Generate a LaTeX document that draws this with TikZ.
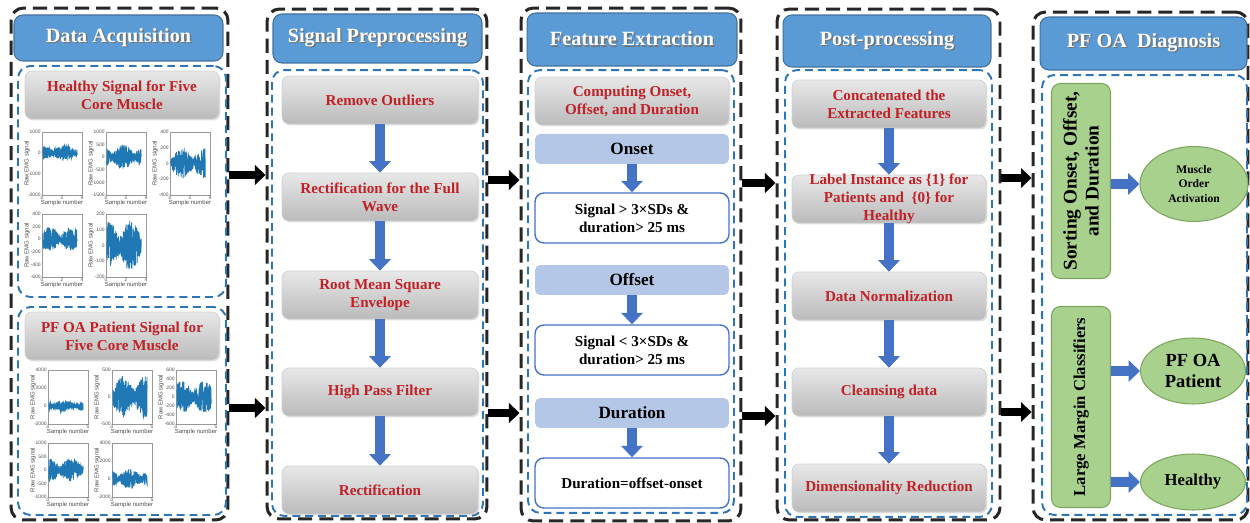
\documentclass[tikz,border=0pt]{standalone}
\usepackage{fontspec}
\setmainfont{Liberation Serif}
\newfontfamily\plotfont{Liberation Sans}
\usepackage{tikz}
\usetikzlibrary{positioning,calc,shadows,arrows.meta,shapes.geometric}

\definecolor{headblue}{RGB}{91,155,213}
\definecolor{headedge}{RGB}{65,113,156}
\definecolor{dashblue}{RGB}{46,117,182}
\definecolor{arrowblue}{RGB}{68,114,196}
\definecolor{lightblue}{RGB}{180,199,231}
\definecolor{boxred}{RGB}{192,32,38}
\definecolor{greenfill}{RGB}{169,209,142}
\definecolor{greenedge}{RGB}{125,165,95}
\definecolor{emgblue}{RGB}{31,119,180}

\newcommand{\shadowtext}[1]{\rlap{\hspace{0.8pt}\raisebox{-0.8pt}{\color{black!55}#1}}#1}

\newcommand{\emgplot}[8]{%
	\draw[plotframe] (#2,#3) rectangle ++(40,\plotH);
	\pgfmathsetseed{#4}
	\draw[emgline] plot[domain=0.02:0.88, samples=320] ({#2+40*\x},{#3+#6+#5*rand*(0.3+0.7*abs(sin(\x*320+#4*41)))});
	\foreach \p/\lab [count=\i] in {#7}
		\node[ticklab, anchor=east] (#1-y\i) at (#2,#3+\p) {\lab};
	\foreach \p/\lab [count=\i] in {#8}
		\node[ticklab, anchor=north] (#1-x\i) at (#2+\p,#3+\plotH) {\lab};
	\node[axislab, anchor=north] (#1-xl) at (#2+20,#3+\plotH+4) {Sample number};
	\node[axislab, rotate=90, anchor=south] (#1-yl) at (#2-11,#3+\plotH/2) {Raw EMG signal};
}

\begin{document}
\begin{tikzpicture}[x=0.02cm, y=-0.02cm,
	outerbox/.style={draw=black!85, line width=1.7pt, dash pattern=on 8pt off 4pt, rounded corners=7pt},
	innerbox/.style={draw=dashblue, line width=1.1pt, dash pattern=on 4.5pt off 2.8pt, rounded corners=7pt},
	header/.style={draw=headedge, fill=headblue, line width=0.6pt, rounded corners=5pt, text=white, font=\fontsize{11.5}{13}\selectfont\bfseries},
	redtext/.style={text=boxred, font=\fontsize{8.6}{10.2}\selectfont\bfseries, align=center, inner sep=0pt},
	graybox/.style={draw=black!18, top color=black!9, bottom color=black!27, rounded corners=4pt, drop shadow={shadow xshift=0.8pt, shadow yshift=-0.8pt, opacity=0.25}, minimum width=3.88cm, minimum height=0.96cm, redtext},
	bluebox/.style={fill=lightblue, rounded corners=3pt, minimum width=3.88cm, minimum height=0.6cm, font=\fontsize{9.8}{11}\selectfont\bfseries},
	whitebox/.style={draw=arrowblue, line width=0.8pt, fill=white, rounded corners=5pt, minimum width=3.88cm, minimum height=1cm, align=center, font=\fontsize{8.6}{10.2}\selectfont\bfseries},
	greenbox/.style={draw=greenedge, fill=greenfill, line width=0.6pt, rounded corners=5pt, rotate=90, align=center, font=\bfseries},
	oval/.style={ellipse, draw=greenedge, fill=greenfill, line width=0.6pt, inner sep=0pt, align=center, font=\bfseries},
	bigarrow/.style={draw=black, line width=4.5pt, -{Triangle[length=6pt,width=11pt]}},
	downarrow/.style={draw=arrowblue, line width=6pt, -{Triangle[length=6.5pt,width=12pt]}},
	plotframe/.style={draw=black!40, line width=0.25pt},
	emgline/.style={draw=emgblue, line width=0.45pt},
	ticklab/.style={font=\plotfont\fontsize{2.8}{3}\selectfont, inner sep=0.6pt, text=black!70},
	axislab/.style={font=\plotfont\fontsize{3.4}{4}\selectfont, inner sep=0.5pt, text=black!70}]

	\useasboundingbox (0,0) rectangle (1250,523);

	\node[outerbox, minimum width=4.34cm, minimum height=10.24cm] (colA) at (119.5,264) {};
	\node[outerbox, minimum width=4.4cm, minimum height=10.2cm] (colB) at (377,264) {};
	\node[outerbox, minimum width=4.4cm, minimum height=10.26cm] (colC) at (631,264.5) {};
	\node[outerbox, minimum width=4.46cm, minimum height=10.22cm] (colD) at (888.5,264.5) {};
	\node[outerbox, minimum width=4.3cm, minimum height=10.16cm] (colE) at (1140.5,266) {};

	\node[header, minimum width=4.18cm, minimum height=0.92cm] (hdA) at (118.5,38) {\shadowtext{Data Acquisition}};
	\node[header, minimum width=4.18cm, minimum height=0.98cm] (hdB) at (377.5,38.5) {\shadowtext{Signal Preprocessing}};
	\node[header, minimum width=4.2cm, minimum height=1.06cm] (hdC) at (632,39.5) {\shadowtext{Feature Extraction}};
	\node[header, minimum width=4.16cm, minimum height=1.04cm] (hdD) at (887,41) {\shadowtext{Post-processing}};
	\node[header, minimum width=4.14cm, minimum height=1.06cm] (hdE) at (1143.5,43.5) {\shadowtext{PF OA~ Diagnosis}};

	\node[innerbox, minimum width=4.16cm, minimum height=4.62cm] (inA1) at (122,181.5) {};
	\node[innerbox, minimum width=4.16cm, minimum height=4.16cm] (inA2) at (122,411) {};
	\node[innerbox, minimum width=4.22cm, minimum height=8.92cm] (inB) at (377.5,293) {};
	\node[innerbox, minimum width=4.12cm, minimum height=8.86cm] (inC) at (631,291.5) {};
	\node[innerbox, minimum width=4.14cm, minimum height=8.94cm] (inD) at (888.5,293.5) {};
	\node[innerbox, minimum width=4.1cm, minimum height=8.8cm] (inE) at (1144.5,295) {};

	\node[graybox] (healthy) at (122,95) {Healthy Signal for Five\\Core Muscle};
	\node[graybox] (patient) at (122,336) {PF OA Patient Signal for\\Five Core Muscle};

	\def\plotH{63}
	\emgplot{hA}{42}{132}{11}{8}{21}{0/1000,21/0,42/-1000,63/-2000}{0/0,20/2,40/4}
	\emgplot{hB}{106}{132}{12}{12}{25}{0/1000,12.6/500,25.2/0,37.8/-500,50.4/-1000,63/-1500}{0/0,20/2,40/4}
	\emgplot{hC}{170}{132}{13}{15}{31.5}{0/400,15.75/200,31.5/0,47.25/-200,63/-400}{0/0,20/2,40/4}
	\emgplot{hD}{42}{214}{14}{12}{25}{0/400,12.6/200,25.2/0,37.8/-200,50.4/-400,63/-600}{0/0,20/2,40/4}
	\emgplot{hE}{106}{214}{15}{25}{31.5}{0/200,15.75/100,31.5/0,47.25/-100,63/-200}{0/0,20/2,40/4}

	\def\plotH{54}
	\emgplot{pA}{48}{370}{21}{6}{36}{0/4000,18/2000,36/0,54/-2000}{0/0,40/5}
	\emgplot{pB}{112}{370}{22}{21}{27}{0/500,27/0,54/-500}{0/0,40/5}
	\emgplot{pC}{176}{370}{23}{16}{27}{0/600,9/400,18/200,27/0,36/-200,45/-400,54/-600}{0/0,40/5}
	\emgplot{pD}{48}{443}{24}{12}{27}{0/1000,13.5/500,27/0,40.5/-500,54/-1000}{0/0,40/5}
	\emgplot{pE}{112}{443}{25}{10}{36}{0/4000,18/2000,36/0,54/-2000}{0/0,40/5}

	\node[graybox, minimum width=3.92cm] (outl) at (380,100) {Remove Outliers};
	\node[graybox, minimum width=3.92cm] (fullw) at (380,197) {Rectification for the Full\\Wave};
	\node[graybox, minimum width=3.92cm] (rms) at (380,295) {Root Mean Square\\Envelope};
	\node[graybox, minimum width=3.92cm] (hpf) at (380,392) {High Pass Filter};
	\node[graybox, minimum width=3.92cm] (rect) at (380,490) {Rectification};

	\draw[downarrow] (outl) -- (fullw);
	\draw[downarrow] (fullw) -- (rms);
	\draw[downarrow] (rms) -- (hpf);
	\draw[downarrow] (hpf) -- (rect);

	\node[graybox] (comp) at (632,101) {Computing Onset,\\Offset, and Duration};
	\node[bluebox] (onset) at (632,149) {Onset};
	\node[whitebox] (onrule) at (632,218) {Signal > 3×SDs \&\\duration> 25 ms};
	\node[bluebox] (offset) at (632,280) {Offset};
	\node[whitebox] (offrule) at (632,350) {Signal < 3×SDs \&\\duration> 25 ms};
	\node[bluebox] (dur) at (632,413) {Duration};
	\node[whitebox] (durrule) at (632,483) {Duration=offset-onset};

	\draw[downarrow] (onset) -- (onrule);
	\draw[downarrow] (offset) -- (offrule);
	\draw[downarrow] (dur) -- (durrule);

	\node[graybox] (concat) at (889,104) {Concatenated the\\Extracted Features};
	\node[graybox] (label) at (889,199) {};
	\node[redtext] (labeltxt) at (label.center) {Label Instance as \{1\} for\\Patients and~ \{0\} for\\Healthy};
	\node[graybox] (norm) at (889,296) {Data Normalization};
	\node[graybox] (clean) at (889,392) {Cleansing data};
	\node[graybox] (dimred) at (889,488) {Dimensionality Reduction};

	\draw[downarrow] (concat) -- (label);
	\draw[downarrow] (label) -- (norm);
	\draw[downarrow] (norm) -- (clean);
	\draw[downarrow] (clean) -- (dimred);

	\node[greenbox, minimum width=3.9cm, minimum height=1.18cm, font=\fontsize{11}{12.5}\selectfont\bfseries] (sorting) at (1081,181) {Sorting Onset, Offset,\\and Duration};
	\node[greenbox, minimum width=4.02cm, minimum height=1.18cm, font=\fontsize{9.5}{11}\selectfont\bfseries] (lmc) at (1081,407) {Large Margin Classifiers};

	\node[oval, minimum width=2.16cm, minimum height=1.5cm, font=\fontsize{6.6}{8.4}\selectfont\bfseries] (order) at (1194,184) {Muscle\\Order\\Activation};
	\node[oval, minimum width=2.1cm, minimum height=1.32cm, font=\fontsize{10.5}{12}\selectfont\bfseries] (pfoa) at (1193,371) {PF OA\\Patient};
	\node[oval, minimum width=2.1cm, minimum height=1.12cm, font=\fontsize{9.5}{11}\selectfont\bfseries] (hlth) at (1193,482) {Healthy};

	\draw[downarrow] (sorting.south |- order) -- (order.west);
	\draw[downarrow] (lmc.south |- pfoa) -- (pfoa.west);
	\draw[downarrow] (lmc.south |- hlth) -- (hlth.west);

	\draw[bigarrow] (colA.east |- 0,175) -- (colB.west |- 0,175);
	\draw[bigarrow] (colA.east |- 0,408) -- (colB.west |- 0,408);
	\draw[bigarrow] (colB.east |- 0,180) -- (colC.west |- 0,180);
	\draw[bigarrow] (colB.east |- 0,413) -- (colC.west |- 0,413);
	\draw[bigarrow] (colC.east |- 0,183) -- (colD.west |- 0,183);
	\draw[bigarrow] (colC.east |- 0,416) -- (colD.west |- 0,416);
	\draw[bigarrow] (colD.east |- 0,178) -- (colE.west |- 0,178);
	\draw[bigarrow] (colD.east |- 0,412) -- (colE.west |- 0,412);
\end{tikzpicture}
\end{document}
